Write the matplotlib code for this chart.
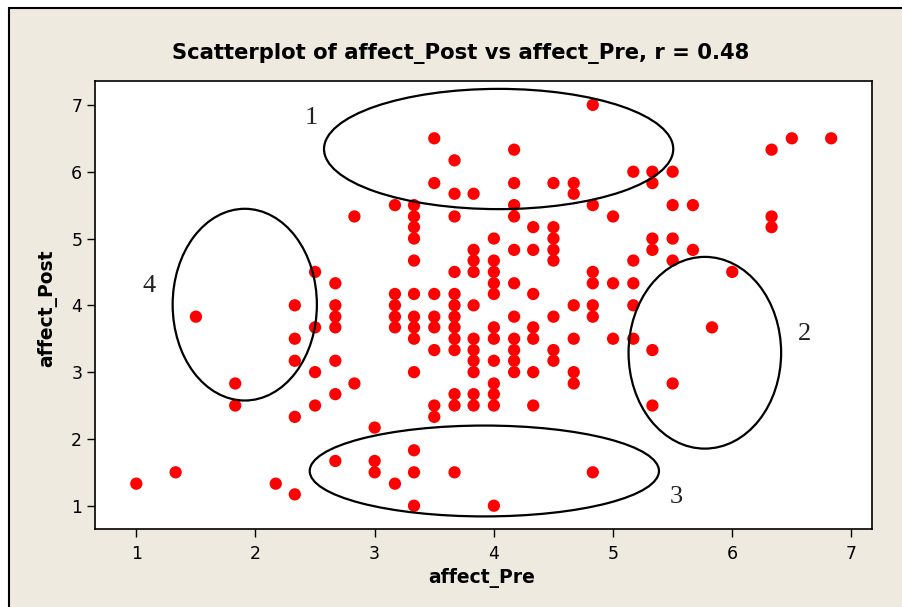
import matplotlib
matplotlib.use('Agg')
import matplotlib.pyplot as plt
from matplotlib.patches import Ellipse, Rectangle

# scores are means of six items, so they sit on steps of 1/6
affect_pre = [1.0, 1.33, 1.5, 1.83, 1.83, 2.17,
              2.33, 2.33, 2.33, 2.33, 2.33,
              2.5, 2.5, 2.5, 2.5,
              2.67, 2.67, 2.67, 2.67, 2.67, 2.67, 2.67,
              2.83, 2.83,
              3.0, 3.0, 3.0,
              3.17, 3.17, 3.17, 3.17, 3.17, 3.17,
              3.33, 3.33, 3.33, 3.33, 3.33, 3.33, 3.33, 3.33, 3.33, 3.33, 3.33, 3.33, 3.33,
              3.5, 3.5, 3.5, 3.5, 3.5, 3.5, 3.5, 3.5,
              3.67, 3.67, 3.67, 3.67, 3.67, 3.67, 3.67, 3.67, 3.67, 3.67, 3.67, 3.67, 3.67,
              3.83, 3.83, 3.83, 3.83, 3.83, 3.83, 3.83, 3.83, 3.83, 3.83, 3.83,
              4.0, 4.0, 4.0, 4.0, 4.0, 4.0, 4.0, 4.0, 4.0, 4.0, 4.0, 4.0,
              4.17, 4.17, 4.17, 4.17, 4.17, 4.17, 4.17, 4.17, 4.17, 4.17, 4.17,
              4.33, 4.33, 4.33, 4.33, 4.33, 4.33, 4.33,
              4.5, 4.5, 4.5, 4.5, 4.5, 4.5, 4.5, 4.5,
              4.67, 4.67, 4.67, 4.67, 4.67, 4.67,
              4.83, 4.83, 4.83, 4.83, 4.83, 4.83, 4.83,
              5.0, 5.0, 5.0,
              5.17, 5.17, 5.17, 5.17, 5.17,
              5.33, 5.33, 5.33, 5.33, 5.33, 5.33,
              5.5, 5.5, 5.5, 5.5, 5.5,
              5.67, 5.67, 5.83, 6.0,
              6.33, 6.33, 6.33, 6.5, 6.83]

affect_post = [1.33, 1.5, 3.83, 2.83, 2.5, 1.33,
               4.0, 3.5, 3.17, 2.33, 1.17,
               4.5, 3.67, 3.0, 2.5,
               4.33, 4.0, 3.83, 3.67, 3.17, 2.67, 1.67,
               5.33, 2.83,
               2.17, 1.67, 1.5,
               5.5, 4.17, 4.0, 3.83, 3.67, 1.33,
               5.5, 5.33, 5.17, 5.0, 4.67, 4.17, 3.83, 3.67, 3.5, 3.0, 1.83, 1.5, 1.0,
               6.5, 5.83, 4.17, 3.83, 3.67, 3.33, 2.5, 2.33,
               6.17, 5.67, 5.33, 4.5, 4.17, 4.0, 3.83, 3.67, 3.5, 3.33, 2.67, 2.5, 1.5,
               5.67, 4.83, 4.67, 4.5, 4.0, 3.5, 3.33, 3.17, 3.0, 2.67, 2.5,
               5.0, 4.67, 4.5, 4.33, 4.17, 3.67, 3.5, 3.17, 2.83, 2.67, 2.5, 1.0,
               6.33, 5.83, 5.5, 5.33, 4.83, 4.33, 3.83, 3.5, 3.33, 3.17, 3.0,
               5.17, 4.83, 4.17, 3.67, 3.5, 3.0, 2.5,
               5.83, 5.17, 5.0, 4.83, 4.67, 3.83, 3.33, 3.17,
               5.83, 5.67, 4.0, 3.5, 3.0, 2.83,
               7.0, 5.5, 4.5, 4.33, 4.0, 3.83, 1.5,
               5.33, 4.33, 3.5,
               6.0, 4.67, 4.33, 4.0, 3.5,
               6.0, 5.83, 5.0, 4.83, 3.33, 2.5,
               6.0, 5.5, 5.0, 4.67, 2.83,
               5.5, 4.83, 3.67, 4.5,
               6.33, 5.33, 5.17, 6.5, 6.5]

# hand-drawn rings marking groups of cases
ring_names = ['1', '2', '3', '4']
ring_x = [4.04, 5.77, 3.92, 1.91]
ring_y = [6.34, 3.29, 1.52, 4.01]
ring_w = [2.93, 1.28, 2.93, 1.21]
ring_h = [1.80, 2.87, 1.36, 2.87]
name_x = [2.47, 6.61, 5.53, 1.11]
name_y = [6.80, 3.57, 1.13, 4.29]

fig = plt.figure(figsize=(9.02, 6.07), dpi=100, facecolor='white')
fig.patches.append(Rectangle((9 / 902, -0.1), 1.2, 1 - 8 / 607 + 0.1,
                             transform=fig.transFigure, facecolor='#EEEAE0',
                             edgecolor='black', linewidth=1.5, zorder=-10))

ax = fig.add_axes([94.7 / 902, 1 - 529.3 / 607, (872.3 - 94.7) / 902, (529.3 - 81) / 607])
ax.set_facecolor('white')
ax.set_xlim(0.651, 7.175)
ax.set_ylim(0.647, 7.358)

ax.scatter(affect_pre, affect_post, s=78, c='#FF0000', edgecolors='none', zorder=3)

for i in range(len(ring_names)):
    ax.add_patch(Ellipse((ring_x[i], ring_y[i]), ring_w[i], ring_h[i],
                         fill=False, edgecolor='black', linewidth=1.6, zorder=4))
    ax.text(name_x[i], name_y[i], ring_names[i], family='Liberation Serif',
            fontsize=19, color='#222222', ha='center', va='center', zorder=5)

ax.set_xticks(range(1, 8))
ax.set_yticks(range(1, 8))
ax.tick_params(direction='out', length=6, width=1, labelsize=12.5, colors='black')
ax.tick_params(axis='x', pad=5)
ax.tick_params(axis='y', pad=3)
for sp in ax.spines.values():
    sp.set_linewidth(1.2)
    sp.set_color('black')

fig.text(461 / 902, 1 - 53 / 607, 'Scatterplot of affect_Post vs affect_Pre, r = 0.48',
         ha='center', va='center', fontsize=15.2, fontweight='bold')
fig.text(482 / 902, 1 - 578 / 607, 'affect_Pre', ha='center', va='center',
         fontsize=13.5, fontweight='bold')
fig.text(47 / 902, 1 - 308 / 607, 'affect_Post', ha='center', va='center',
         rotation=90, fontsize=13.5, fontweight='bold')

fig.savefig('out.png', dpi=100, facecolor=fig.get_facecolor())
